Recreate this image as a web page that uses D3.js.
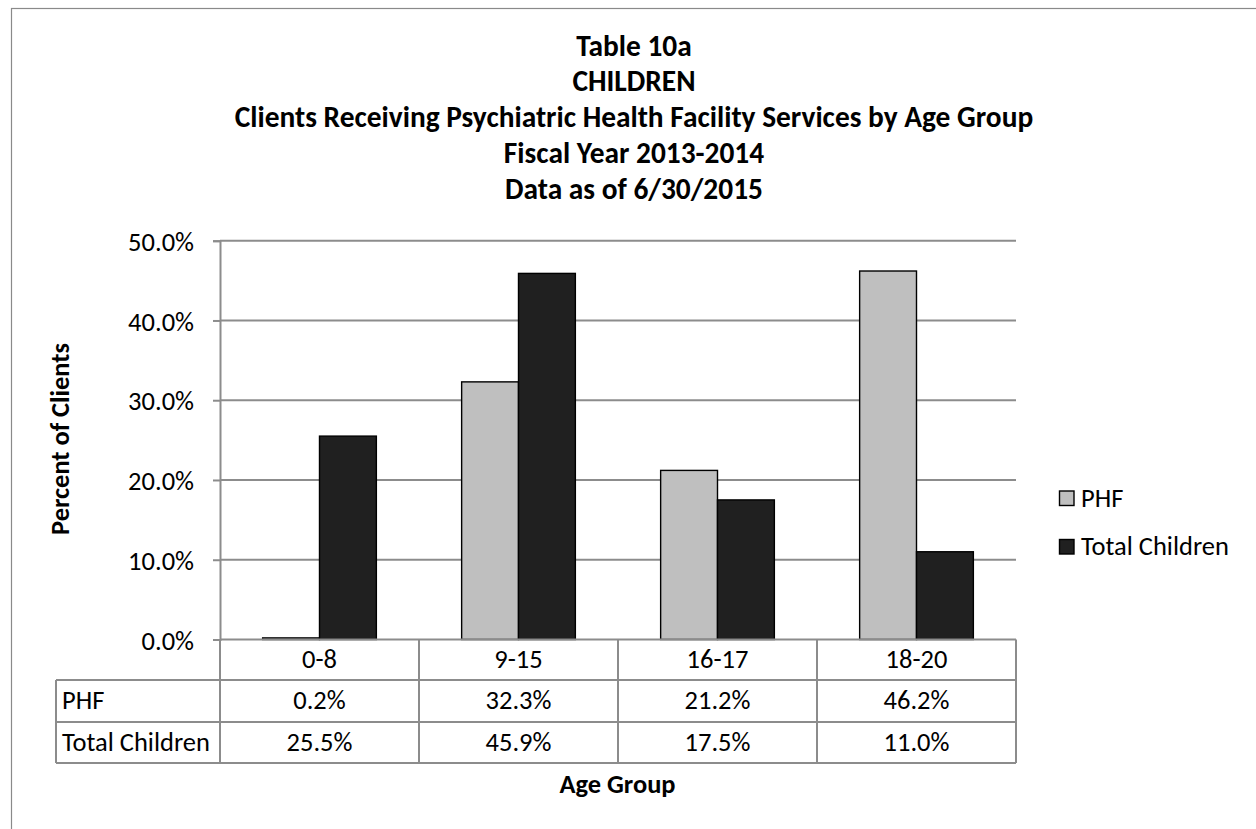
<!DOCTYPE html>
<html><head><meta charset="utf-8">
<script src="https://cdn.jsdelivr.net/npm/d3@7"></script>
<style>
html,body{margin:0;padding:0;background:#fff;}
svg{display:block;}
text{font-family:Carlito, Calibri, Lato, sans-serif;fill:#000;}
</style></head>
<body>
<svg id="c" width="1256" height="829"></svg>
<script>
const titleLines = ["Table 10a","CHILDREN","Clients Receiving Psychiatric Health Facility Services by Age Group","Fiscal Year 2013-2014","Data as of 6/30/2015"];
const categories = ["0-8","9-15","16-17","18-20"];
const seriesNames = ["PHF","Total Children"];
const phfValues = [0.2, 32.3, 21.2, 46.2];
const totalValues = [25.5, 45.9, 17.5, 11.0];
const yTicks = [0,10,20,30,40,50];
const yTitle = "Percent of Clients";
const xTitle = "Age Group";

const seriesValues = [phfValues, totalValues];
const colors = ["#bfbfbf","#202020"];
const gridColor = "#8c8c8c";
const FONT = "Carlito, Calibri, Lato, sans-serif";

const svg = d3.select("#c");

// font size calibration: measure a reference string and scale to the width seen in the chart
function calibrate(str, weight, target){
  const t = svg.append("text").attr("font-size",20).attr("font-weight",weight).attr("font-family",FONT).text(str);
  const w = t.node().getComputedTextLength();
  t.remove();
  return 20*target/w;
}
const fsBold = calibrate(titleLines[2], "bold", 799);
const fsReg = calibrate("Total Children", "normal", 148);
const fsAxisTitle = calibrate(yTitle, "bold", 192);

// outer frame (right/bottom edges outside the view)
svg.append("rect").attr("x",11.5).attr("y",8.5).attr("width",1300).attr("height",900)
  .attr("fill","none").attr("stroke","#8a8a8a").attr("stroke-width",1.2);

const L=220, R=1016, T=240.7, B=639.5;
const y = d3.scaleLinear().domain([0,50]).range([B,T]);
const x0 = d3.scaleBand().domain(categories).range([L,R]).paddingInner(0).paddingOuter(0);
const x1 = d3.scaleBand().domain(seriesNames).range([0,x0.bandwidth()]).paddingInner(0).paddingOuter(0.75);

// title
const tg = svg.append("g");
titleLines.forEach((t,i)=>{
  tg.append("text").attr("x",634).attr("y",55.5+i*35.8).attr("text-anchor","middle")
    .attr("font-weight","bold").attr("font-size",fsBold).text(t);
});

// gridlines
svg.append("g").selectAll("line").data(yTicks.filter(d=>d>0)).join("line")
  .attr("x1",L).attr("x2",R).attr("y1",d=>y(d)).attr("y2",d=>y(d))
  .attr("stroke",gridColor).attr("stroke-width",2);

// y axis
const yAxis = d3.axisLeft(y).tickValues(yTicks).tickSize(7).tickPadding(19)
  .tickFormat(d=>d3.format(".1f")(d)+"%");
const ya = svg.append("g").attr("transform",`translate(${L},0)`).call(yAxis);
ya.select(".domain").attr("stroke",gridColor).attr("stroke-width",2);
ya.selectAll(".tick line").attr("stroke",gridColor).attr("stroke-width",2);
ya.selectAll(".tick text").attr("font-size",fsReg).attr("font-family",FONT)
  .attr("fill","#000").attr("dy","0.36em");

// bars
const bars = svg.append("g");
seriesNames.forEach((s,si)=>{
  bars.selectAll(null).data(seriesValues[si]).join("rect")
    .attr("x",(d,i)=>x0(categories[i])+x1(s))
    .attr("y",d=>y(d))
    .attr("width",x1.bandwidth())
    .attr("height",d=>B-y(d))
    .attr("fill",colors[si]).attr("stroke","#000").attr("stroke-width",1.4);
});

// data table
const rowTop=[B,680,722,763];
const tbl = svg.append("g").attr("stroke",gridColor).attr("stroke-width",2);
tbl.append("line").attr("x1",L).attr("x2",R).attr("y1",B).attr("y2",B);
[1,2,3].forEach(r=>tbl.append("line").attr("x1",56).attr("x2",R).attr("y1",rowTop[r]).attr("y2",rowTop[r]));
tbl.append("line").attr("x1",56).attr("x2",56).attr("y1",rowTop[1]).attr("y2",rowTop[3]);
categories.forEach(c=>tbl.append("line").attr("x1",x0(c)).attr("x2",x0(c)).attr("y1",B).attr("y2",rowTop[3]));
tbl.append("line").attr("x1",R).attr("x2",R).attr("y1",B).attr("y2",rowTop[3]);

const tt = svg.append("g").attr("font-size",fsReg);
categories.forEach((c,i)=>{
  const cx = x0(c)+x0.bandwidth()/2;
  tt.append("text").attr("x",cx).attr("y",668).attr("text-anchor","middle").text(c);
  tt.append("text").attr("x",cx).attr("y",709).attr("text-anchor","middle").text(d3.format(".1f")(phfValues[i])+"%");
  tt.append("text").attr("x",cx).attr("y",750.5).attr("text-anchor","middle").text(d3.format(".1f")(totalValues[i])+"%");
});
tt.append("text").attr("x",62).attr("y",709).text(seriesNames[0]);
tt.append("text").attr("x",62).attr("y",750.5).text(seriesNames[1]);

// axis titles
svg.append("text").attr("transform","translate(69,439) rotate(-90)").attr("text-anchor","middle")
  .attr("font-weight","bold").attr("font-size",fsAxisTitle).text(yTitle);
svg.append("text").attr("x",617.5).attr("y",793).attr("text-anchor","middle")
  .attr("font-weight","bold").attr("font-size",fsAxisTitle).text(xTitle);

// legend
const lg = svg.append("g");
seriesNames.forEach((s,i)=>{
  const yy = 491 + i*48.5;
  lg.append("rect").attr("x",1059.5).attr("y",yy).attr("width",14.5).attr("height",14.5)
    .attr("fill",colors[i]).attr("stroke","#000").attr("stroke-width",1.4);
  lg.append("text").attr("x",1081).attr("y",yy+15.5).attr("font-size",fsReg).text(s);
});
</script>
</body></html>
